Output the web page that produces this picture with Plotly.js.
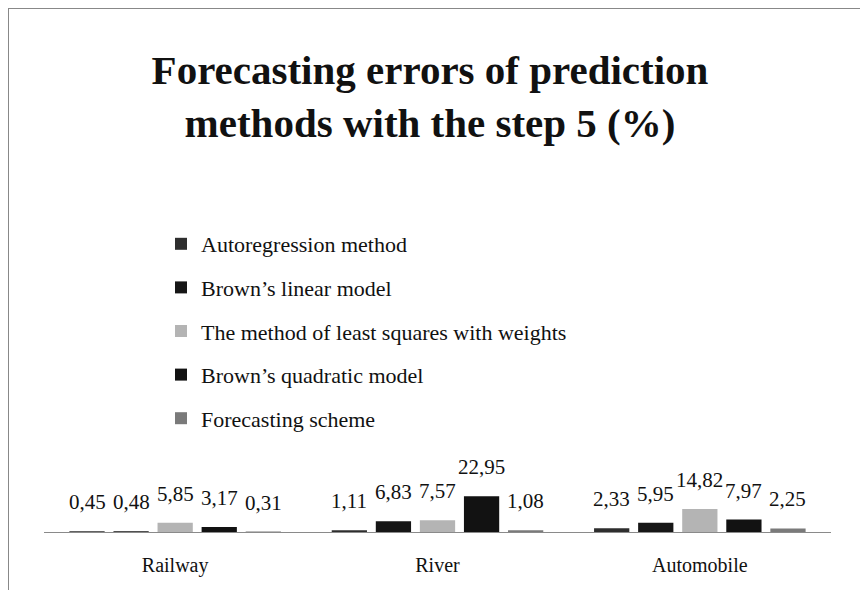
<!DOCTYPE html>
<html>
<head>
<meta charset="utf-8">
<script src="https://cdn.plot.ly/plotly-3.0.1.min.js"></script>
<style>
html,body{margin:0;padding:0;background:#fff;}
#wrap{position:relative;width:860px;height:590px;}
#chart{width:860px;height:590px;}
#frame{position:absolute;left:8px;top:8px;width:852px;height:582px;border-left:1px solid #888;border-top:1px solid #888;pointer-events:none;}
</style>
</head>
<body>
<div id="wrap"><div id="chart"></div><div id="frame"></div></div>
<script>
const categories = ["Railway", "River", "Automobile"];
const seriesNames = [
  "Autoregression method",
  "Brown\u2019s linear model",
  "The method of least squares with weights",
  "Brown\u2019s quadratic model",
  "Forecasting scheme"
];
const autoregression = [0.45, 1.11, 2.33];
const brownLinear = [0.48, 6.83, 5.95];
const leastSquares = [5.85, 7.57, 14.82];
const brownQuadratic = [3.17, 22.95, 7.97];
const forecastingScheme = [0.31, 1.08, 2.25];
const seriesValues = [autoregression, brownLinear, leastSquares, brownQuadratic, forecastingScheme];
const seriesColors = ["#2e2e2e", "#161616", "#b4b4b4", "#121212", "#7a7a7a"];

const margin = {l: 44, r: 29, t: 493, b: 58, autoexpand: false};
const bargap = 0.16, bargroupgap = 0.2;
const serif = "Liberation Serif, DejaVu Serif, serif";

const traces = seriesValues.map((vals, i) => ({
  type: "bar",
  name: seriesNames[i],
  x: categories,
  y: vals,
  legendgroup: "g" + i,
  marker: {color: seriesColors[i], line: {width: 0}},
  hoverinfo: "none"
}));

const plotW = 860 - margin.l - margin.r;
const slot = plotW / categories.length * (1 - bargap) / seriesValues.length;
const annotations = [];
seriesValues.forEach((vals, i) => {
  vals.forEach((v, j) => {
    annotations.push({
      x: categories[j], y: v, xref: "x", yref: "y",
      text: v.toFixed(2).replace(".", ","),
      showarrow: false, xanchor: "center", yanchor: "middle",
      xshift: (i - (seriesValues.length - 1) / 2) * slot,
      yshift: 29,
      font: {family: serif, size: 21, color: "#111"}
    });
  });
});

const layout = {
  width: 860, height: 590,
  paper_bgcolor: "#fff", plot_bgcolor: "#fff",
  margin: margin,
  barmode: "group", bargap: bargap, bargroupgap: bargroupgap,
  showlegend: true,
  title: {
    text: "<b>Forecasting errors of prediction<br>methods with the step 5 (%)</b>",
    font: {family: serif, size: 41, color: "#111"},
    x: 0.5, xref: "container", xanchor: "center",
    y: 1 - 84 / 590, yref: "container", yanchor: "top",
    automargin: false
  },
  legend: {
    x: 161 / 860, xref: "container", xanchor: "left",
    y: 1 - 223 / 590, yref: "container", yanchor: "top",
    font: {family: serif, size: 22, color: "#111"},
    tracegroupgap: 12,
    traceorder: "grouped",
    bgcolor: "rgba(0,0,0,0)"
  },
  xaxis: {
    type: "category",
    showgrid: false, zeroline: false,
    showline: true, linecolor: "#8a8a8a", linewidth: 1,
    ticks: "", ticklabelstandoff: 15, tickangle: 0,
    tickfont: {family: serif, size: 20, color: "#111"}
  },
  yaxis: {
    range: [0, 25], visible: false, showgrid: false, zeroline: false
  },
  annotations: annotations
};

Plotly.newPlot("chart", traces, layout, {displayModeBar: false, staticPlot: true});
</script>
</body>
</html>
